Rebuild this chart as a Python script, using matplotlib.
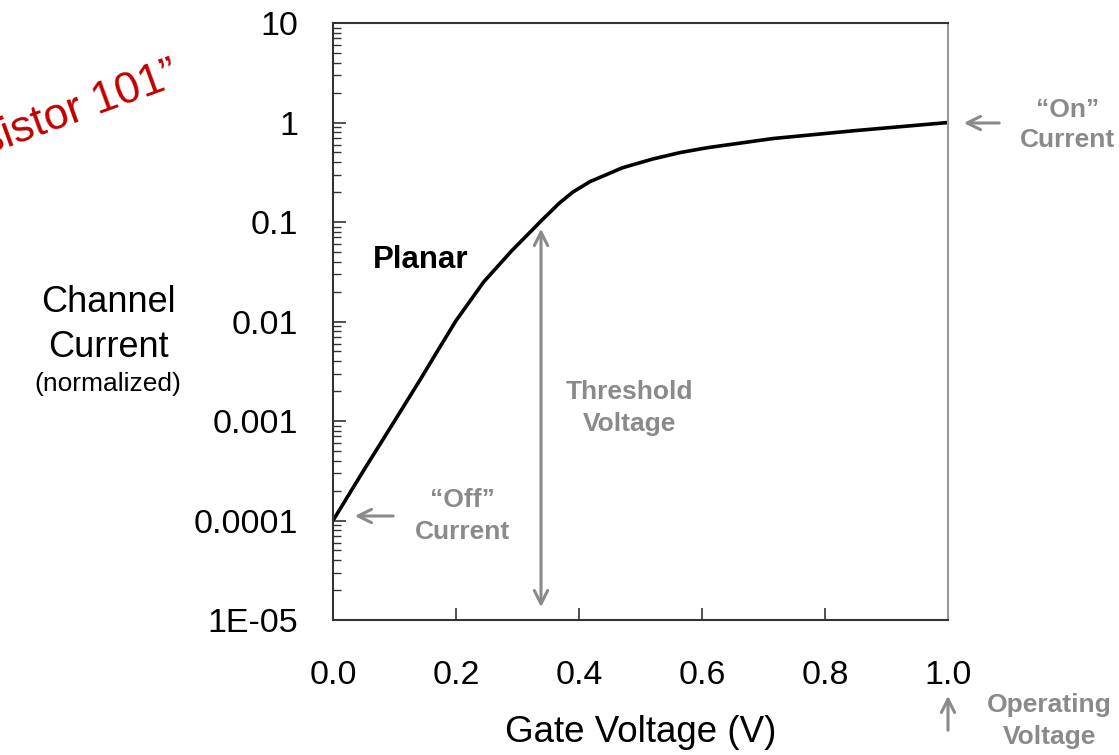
import matplotlib.pyplot as plt
from matplotlib.ticker import LogLocator, FixedLocator, NullFormatter

plt.rcParams["font.family"] = ["Liberation Sans", "DejaVu Sans"]

# gate voltage (V) vs normalized channel current
gate_v = [0.0, 0.05, 0.10, 0.14, 0.175, 0.20, 0.245, 0.29, 0.34, 0.368,
          0.39, 0.418, 0.445, 0.47, 0.52, 0.565, 0.61, 0.715, 0.85, 1.00]
current = [1.0e-4, 3.2e-4, 1.0e-3, 2.5e-3, 5.7e-3, 1.02e-2, 2.5e-2, 5.1e-2,
           0.105, 0.155, 0.20, 0.255, 0.30, 0.35, 0.43, 0.50, 0.56, 0.69,
           0.83, 1.0]

y_ticks = [1e-5, 1e-4, 1e-3, 1e-2, 1e-1, 1, 10]
y_labels = ["1E-05", "0.0001", "0.001", "0.01", "0.1", "1", "10"]
x_ticks = [0.0, 0.2, 0.4, 0.6, 0.8, 1.0]
x_labels = ["0.0", "0.2", "0.4", "0.6", "0.8", "1.0"]

GREY = "#8a8a8a"

fig = plt.figure(figsize=(11.19, 7.55), dpi=100)
ax = fig.add_axes([0.2976, 0.1788, 0.5496, 0.7907])

ax.plot(gate_v, current, color="black", linewidth=2.6, solid_joinstyle="round",
        solid_capstyle="round")

ax.set_yscale("log")
ax.set_xlim(0, 1)
ax.set_ylim(1e-5, 10)
ax.yaxis.set_major_locator(FixedLocator(y_ticks))
ax.set_yticklabels(y_labels)
ax.yaxis.set_minor_locator(LogLocator(base=10, subs=range(2, 10)))
ax.yaxis.set_minor_formatter(NullFormatter())
ax.set_xticks(x_ticks)
ax.set_xticklabels(x_labels)

ax.tick_params(axis="both", which="major", direction="in", length=9, width=1.2,
               labelsize=24.5, color="#333333")
ax.tick_params(axis="y", which="major", pad=25)
ax.tick_params(axis="x", which="major", pad=29)
ax.tick_params(axis="y", which="minor", direction="in", length=6, width=1.0,
               color="#333333")
for side in ["left", "bottom", "top"]:
    ax.spines[side].set_color("#333333")
    ax.spines[side].set_linewidth(1.5)
ax.spines["right"].set_color("#999999")
ax.spines["right"].set_linewidth(1.5)

ax.set_xlabel("Gate Voltage (V)", fontsize=26.5, labelpad=17)

# y axis title, placed by hand like the slide
fig.text(0.0965, 0.600, "Channel", fontsize=26, ha="center", va="center")
fig.text(0.0965, 0.540, "Current", fontsize=26, ha="center", va="center")
fig.text(0.0965, 0.491, "(normalized)", fontsize=19, ha="center", va="center")

fig.text(0.333, 0.656, "Planar", fontsize=22.5, fontweight="bold", ha="left",
         va="center")

# annotations
note = dict(fontsize=19, fontweight="bold", color=GREY, ha="center", va="center")
arrow = dict(arrowstyle="->", color=GREY, lw=2.2, mutation_scale=24)

fig.text(0.413, 0.338, "\u201cOff\u201d", **note)
fig.text(0.413, 0.295, "Current", **note)
ax.annotate("", xy=(352 / 1119, 1 - 516 / 755), xytext=(396 / 1119, 1 - 516 / 755),
            xycoords="figure fraction", arrowprops=arrow)

fig.text(0.563, 0.481, "Threshold", **note)
fig.text(0.563, 0.438, "Voltage", **note)
ax.annotate("", xy=(541 / 1119, 1 - 610 / 755), xytext=(541 / 1119, 1 - 226 / 755),
            xycoords="figure fraction",
            arrowprops=dict(arrowstyle="<->", color=GREY, lw=2.2,
                            mutation_scale=24))

fig.text(0.954, 0.854, "\u201cOn\u201d", **note)
fig.text(0.954, 0.815, "Current", **note)
ax.annotate("", xy=(961 / 1119, 1 - 123 / 755), xytext=(1002 / 1119, 1 - 123 / 755),
            xycoords="figure fraction", arrowprops=arrow)

fig.text(0.938, 0.066, "Operating", **note)
fig.text(0.938, 0.024, "Voltage", **note)
ax.annotate("", xy=(948 / 1119, 1 - 693 / 755), xytext=(948 / 1119, 1 - 733 / 755),
            xycoords="figure fraction", arrowprops=arrow)

# slide title fragment, cut off at the left edge
fig.text(0.1617, 0.888, "\u201cTransistor 101\u201d", fontsize=32, color="#c00000",
         rotation=20, ha="right", va="baseline", rotation_mode="anchor")

fig.savefig("out.png", dpi=100)
